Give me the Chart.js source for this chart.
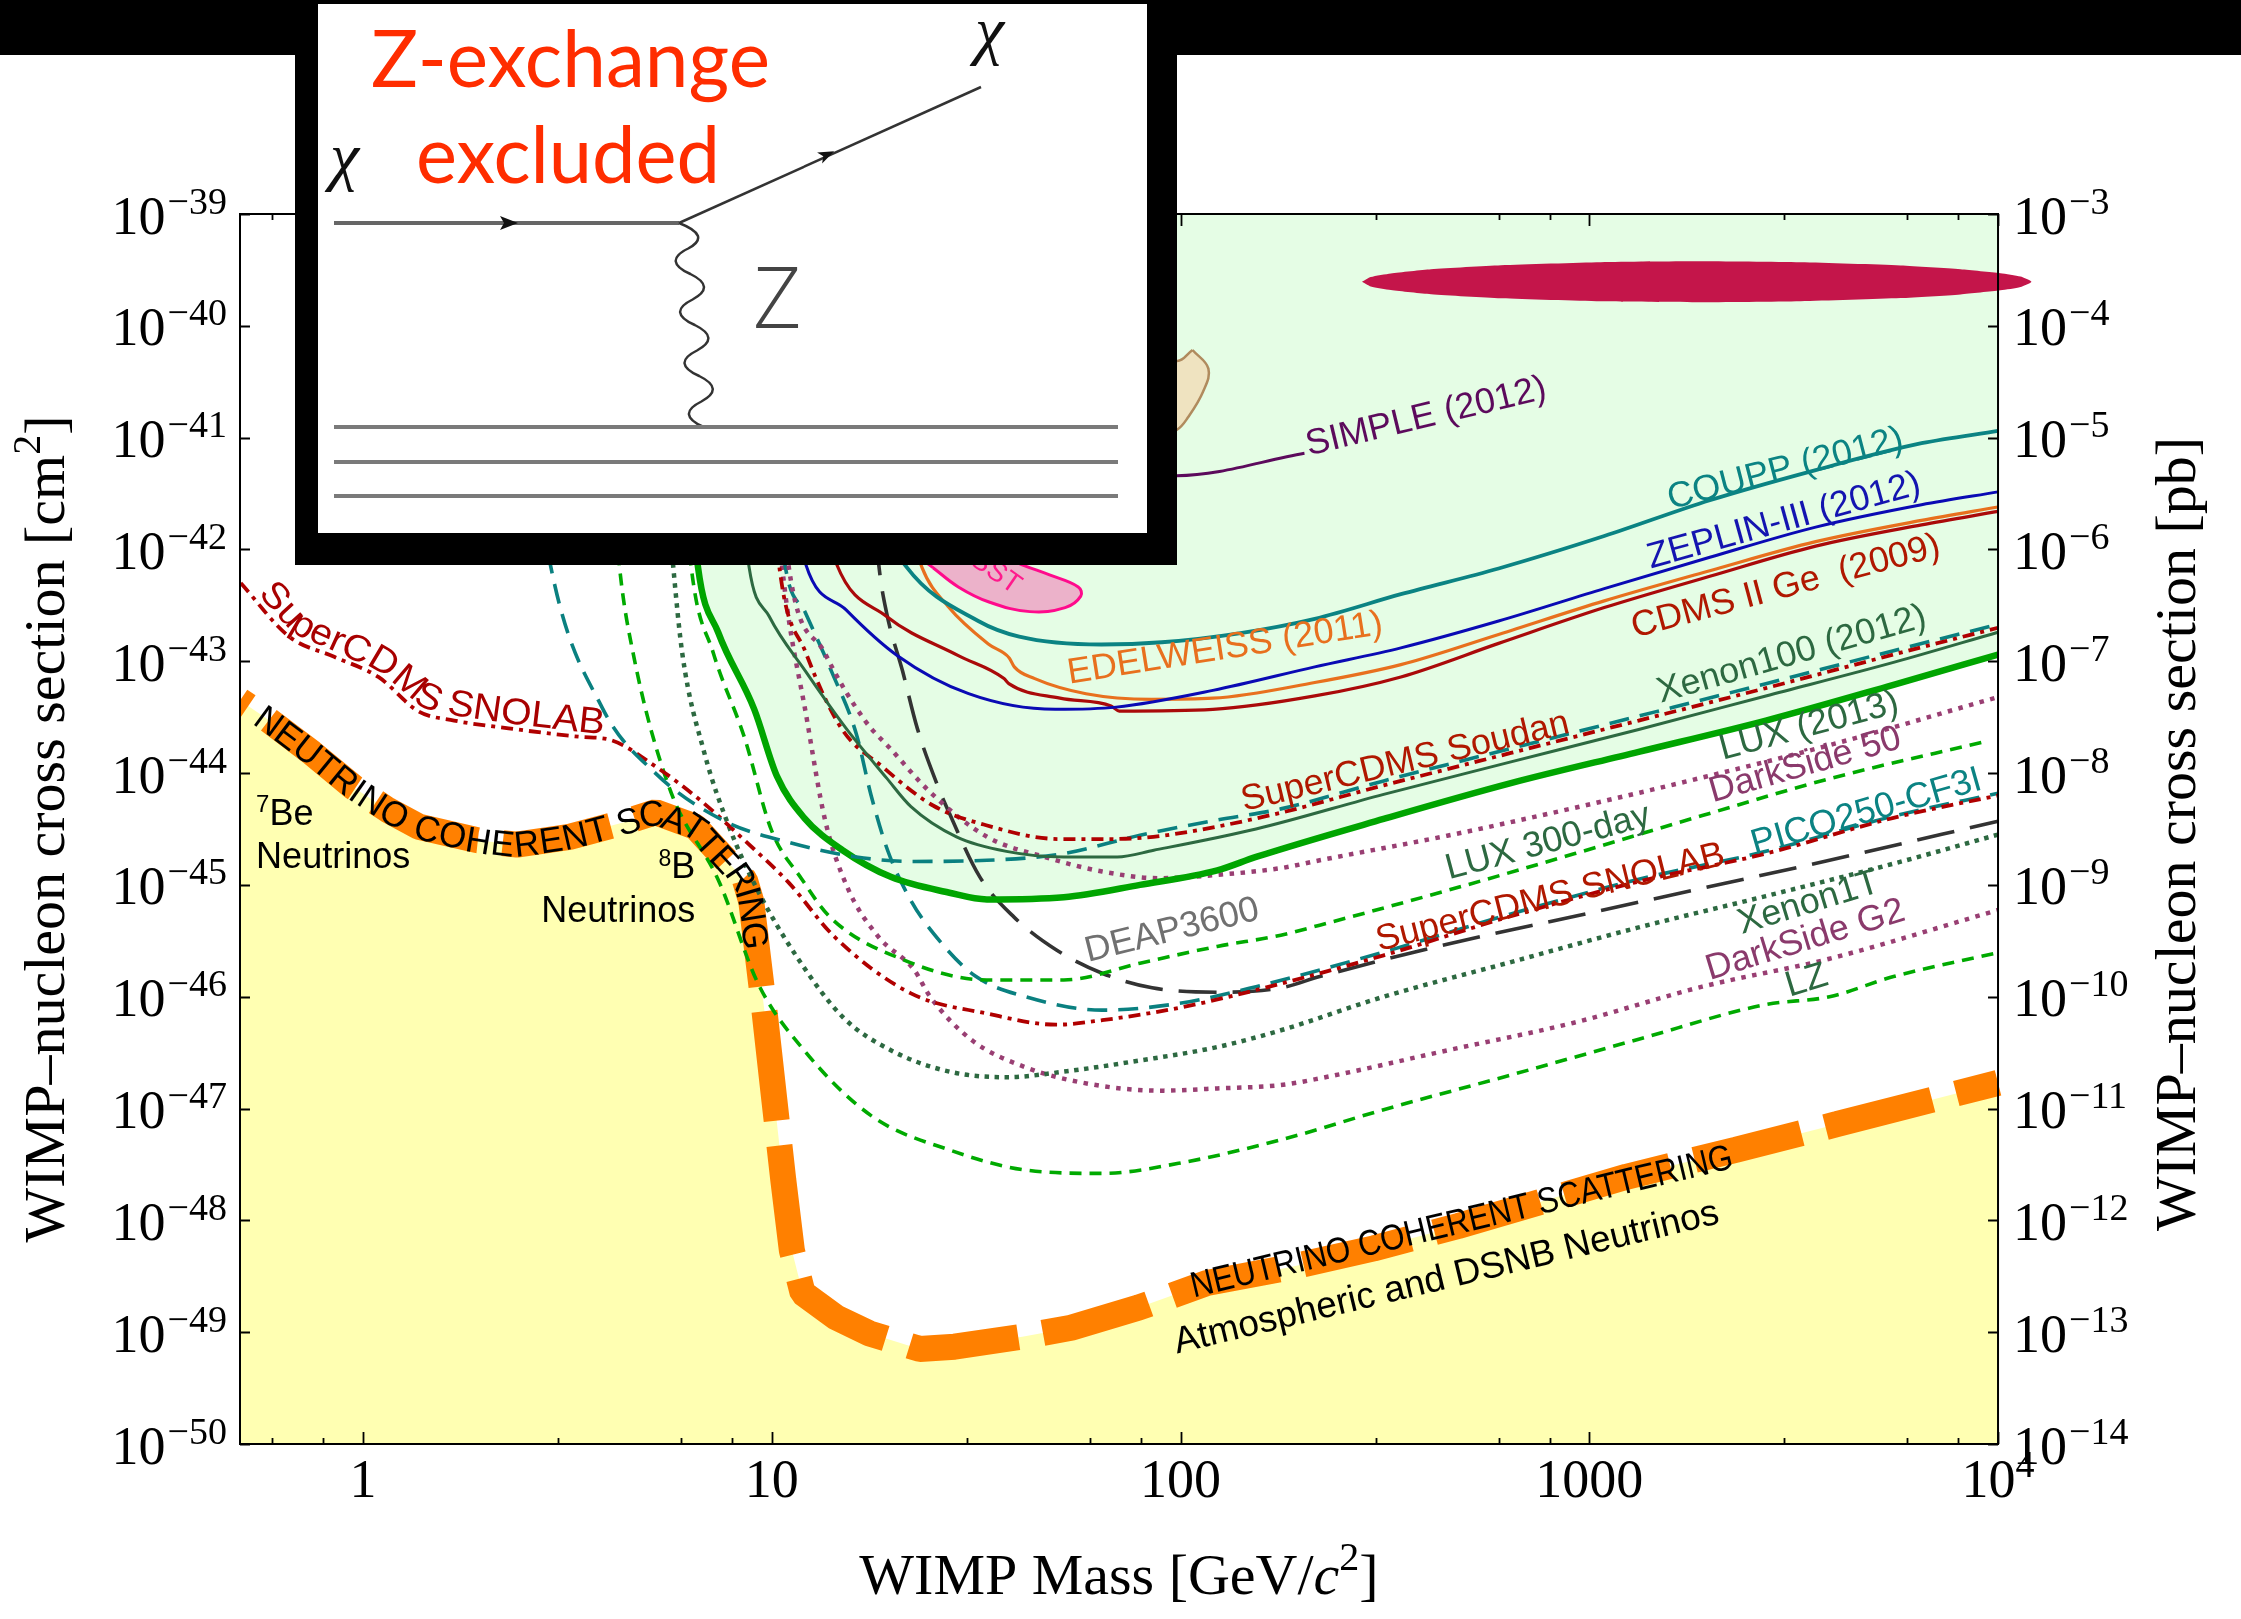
<!DOCTYPE html>
<html>
<head>
<meta charset="utf-8">
<title>WIMP-nucleon cross section limits</title>
<script src="https://cdn.jsdelivr.net/npm/chart.js@4.4.1/dist/chart.umd.min.js"></script>
<style>
html, body { margin: 0; padding: 0; background: #fff; }
#wrap { position: relative; width: 2241px; height: 1619px; overflow: hidden; background: #fff; }
#chart { position: absolute; left: 0; top: 0; }
#topbar { position: absolute; left: 0; top: 0; width: 2241px; height: 55px; background: #000; }
#inset { position: absolute; left: 295px; top: 0; width: 882px; height: 565px; box-sizing: border-box; background: #fff; border: solid #000; border-width: 4px 30px 32px 23px; }
#inset svg { position: absolute; left: 0; top: 0; }
</style>
</head>
<body>
<div id="wrap">
<canvas id="chart" width="2241" height="1619"></canvas>
<div id="topbar"></div>
<div id="inset">
<svg width="829" height="529" viewBox="318 4 829 529">
  <line x1="334" y1="223" x2="679" y2="223" stroke="#666" stroke-width="4"/>
  <polygon points="518,223 500,216 504,223 500,230" fill="#111"/>
  <line x1="679" y1="223" x2="981" y2="87" stroke="#333" stroke-width="2.5"/>
  <polygon points="834.2,151.3 822.1,163.4 823.3,156.2 817.1,152.4" fill="#111"/>
  <path id="wave" d="" fill="none" stroke="#333" stroke-width="2.5"/>
  <line x1="334" y1="427" x2="1118" y2="427" stroke="#7a7a7a" stroke-width="4"/>
  <line x1="334" y1="462" x2="1118" y2="462" stroke="#7a7a7a" stroke-width="4"/>
  <line x1="334" y1="496" x2="1118" y2="496" stroke="#7a7a7a" stroke-width="4"/>
  <text x="371" y="87" font-family="Lato, 'Liberation Sans', sans-serif" font-size="80" fill="#ff2d00" textLength="399" lengthAdjust="spacingAndGlyphs">Z-exchange</text>
  <text x="416" y="183" font-family="Lato, 'Liberation Sans', sans-serif" font-size="80" fill="#ff2d00" textLength="304" lengthAdjust="spacingAndGlyphs">excluded</text>
  <text x="330" y="178" font-family="'Liberation Serif', serif" font-style="italic" font-size="66" fill="#111">χ</text>
  <text x="975" y="52" font-family="'Liberation Serif', serif" font-style="italic" font-size="66" fill="#111">χ</text>
  <text x="753" y="328" font-family="'Open Sans', 'Liberation Sans', sans-serif" font-weight="300" font-size="84" fill="#444">Z</text>
</svg>
</div>
</div>
<script>
// WIMP mass in GeV, cross sections as log10(sigma / cm^2)
const floorMass  = [0.5, 0.575, 0.75, 0.95, 1.15, 1.37, 1.9, 2.38, 3.2, 4.35, 5.2, 6.5, 7.6, 8.6, 8.91, 9.59, 10.15, 10.67, 11.2, 11.9, 14.4, 17.3, 23, 28, 41, 54, 79, 116, 185, 297, 478, 767, 1232, 2280, 4030, 10000];
const floorSigma = [-43.35, -43.50, -43.82, -44.13, -44.33, -44.48, -44.60, -44.64, -44.57, -44.44, -44.35, -44.48, -44.75, -44.96, -45.15, -46.12, -46.93, -47.64, -48.27, -48.65, -48.87, -49.01, -49.15, -49.13, -49.04, -48.96, -48.78, -48.56, -48.42, -48.25, -48.05, -47.83, -47.61, -47.37, -47.14, -46.77];

const simpleMass  = [10, 20, 40, 70, 98, 201];
const simpleSigma = [-39.3, -40.6, -41.15, -41.32, -41.34, -41.14];

const couppMass  = [13, 16, 21.4, 32, 40.3, 64, 90, 139, 213, 346, 600, 1088, 1972, 3580, 6500, 10000];
const couppSigma = [-39.5, -41.3, -42.16, -42.64, -42.78, -42.85, -42.83, -42.75, -42.62, -42.40, -42.17, -41.88, -41.56, -41.29, -41.05, -40.94];

const zeplinMass  = [9.5, 10.5, 12.1, 15.2, 20.3, 30.3, 49.4, 69.6, 120, 213, 346, 600, 1088, 1972, 3580, 6500, 10000];
const zeplinSigma = [-39.5, -41.0, -42.13, -42.54, -42.95, -43.29, -43.43, -43.41, -43.26, -43.05, -42.88, -42.64, -42.35, -42.07, -41.80, -41.60, -41.485];

const cdmsMass  = [10.5, 12, 14.4, 19.1, 28.6, 37, 38, 50.7, 67.6, 70.8, 120, 213, 346, 600, 1088, 1972, 3580, 6500, 10000];
const cdmsSigma = [-39.5, -41.0, -42.13, -42.60, -42.95, -43.155, -43.20, -43.33, -43.40, -43.445, -43.43, -43.31, -43.14, -42.84, -42.52, -42.24, -41.97, -41.78, -41.66];

const edelMass  = [17, 20, 23.3, 27, 34, 38.1, 39.2, 44, 58.7, 85, 120, 213, 346, 600, 1088, 1972, 3580, 6500, 10000];
const edelSigma = [-39.5, -41.3, -42.16, -42.51, -42.85, -42.97, -43.05, -43.155, -43.29, -43.34, -43.33, -43.19, -43.03, -42.76, -42.46, -42.19, -41.93, -41.74, -41.62];

const xe100Mass  = [7.8, 8.2, 8.8, 9.86, 12.1, 15.2, 19.1, 21.9, 28.3, 37.5, 51.8, 70, 86, 153, 314, 643, 1321, 2704, 5550, 10000];
const xe100Sigma = [-39.0, -41.0, -42.16, -42.60, -43.09, -43.60, -44.045, -44.30, -44.57, -44.70, -44.75, -44.75, -44.69, -44.50, -44.19, -43.90, -43.61, -43.31, -43.01, -42.74];

const luxMass  = [5.9, 6.2, 6.6, 7.4, 9.06, 10.3, 12, 14.9, 19.6, 27.2, 33.6, 51.8, 79.6, 123, 153, 314, 643, 1321, 2704, 5550, 10000];
const luxSigma = [-39.0, -41.0, -42.16, -42.745, -43.43, -44.03, -44.40, -44.69, -44.93, -45.07, -45.13, -45.11, -45.00, -44.87, -44.75, -44.41, -44.09, -43.81, -43.53, -43.21, -42.94];

const soudanMass  = [9.3, 9.8, 10.5, 12.1, 14.8, 18.6, 24.8, 33, 50.7, 67.6, 90.1, 160, 314, 643, 1321, 2704, 5550, 10000];
const soudanSigma = [-39.0, -41.0, -42.23, -42.92, -43.60, -43.94, -44.29, -44.46, -44.59, -44.59, -44.56, -44.39, -44.11, -43.82, -43.53, -43.24, -42.94, -42.70];

const liteMass  = [2.45, 2.6, 2.88, 3.84, 5.19, 7.57, 11.0, 16.1, 21.9, 33.6, 51.8, 79.6, 123, 176, 314, 643, 1321, 2704, 5550, 10000];
const liteSigma = [-39.0, -41.0, -42.155, -43.41, -44.0, -44.42, -44.62, -44.75, -44.79, -44.78, -44.72, -44.555, -44.42, -44.32, -44.07, -43.78, -43.49, -43.20, -42.905, -42.67];

const picoMass  = [9.4, 10.0, 10.8, 12.1, 14, 16.1, 17.5, 19.2, 21.9, 26, 31.6, 41.8, 64.3, 98.9, 153, 314, 643, 1321, 2704, 5550, 10000];
const picoSigma = [-39.0, -41.0, -42.16, -42.57, -43.09, -43.65, -44.2, -44.69, -45.14, -45.52, -45.82, -46.0, -46.12, -46.06, -45.91, -45.60, -45.26, -44.95, -44.70, -44.385, -44.18];

const deapMass  = [16.3, 17.2, 18.3, 19.1, 20.9, 22.7, 25.5, 27.2, 32.3, 39.2, 49.6, 64.3, 85.2, 123, 176, 219, 449, 922, 1890, 3870, 10000];
const deapSigma = [-39.0, -41.0, -42.16, -42.57, -43.09, -43.60, -44.12, -44.36, -44.93, -45.29, -45.58, -45.79, -45.92, -45.96, -45.92, -45.82, -45.53, -45.28, -45.03, -44.78, -44.43];

const ds50Mass  = [9.8, 10.3, 11.0, 13.5, 16.9, 19.6, 24.4, 33.6, 46.5, 64.3, 88.7, 123, 176, 219, 449, 922, 1890, 3870, 10000];
const ds50Sigma = [-39.0, -41.0, -42.155, -42.93, -43.53, -43.79, -44.17, -44.57, -44.75, -44.88, -44.94, -44.91, -44.85, -44.78, -44.56, -44.31, -44.04, -43.75, -43.32];

const g2Mass  = [9.5, 10.0, 10.6, 12.2, 13.5, 15.3, 18.2, 22.3, 24.4, 30.9, 41.7, 57.8, 88.7, 123, 176, 219, 449, 922, 1890, 3870, 10000];
const g2Sigma = [-39.0, -41.0, -42.155, -43.53, -44.42, -45.02, -45.46, -45.76, -46.00, -46.39, -46.63, -46.77, -46.84, -46.82, -46.79, -46.73, -46.48, -46.23, -45.91, -45.66, -45.225];

const xe1tMass  = [5.1, 5.4, 5.74, 6.04, 6.84, 7.88, 9.27, 11.5, 14.9, 19.6, 27.2, 37.5, 51.8, 79.6, 123, 176, 314, 643, 1321, 2704, 5550, 10000];
const xe1tSigma = [-39.0, -41.0, -42.155, -42.93, -43.82, -44.49, -45.06, -45.64, -46.18, -46.48, -46.67, -46.72, -46.67, -46.57, -46.45, -46.30, -46.00, -45.69, -45.38, -45.10, -44.81, -44.55];

const lux300Mass  = [5.7, 6.0, 6.35, 7.2, 8.57, 9.98, 11.8, 13.9, 21, 33.6, 51.8, 79.6, 123, 176, 219, 449, 922, 1890, 3870, 9500];
const lux300Sigma = [-39.0, -41.0, -42.155, -42.93, -43.68, -44.51, -44.94, -45.29, -45.67, -45.85, -45.85, -45.70, -45.55, -45.45, -45.36, -45.05, -44.72, -44.38, -44.05, -43.71];

const lzMass  = [3.8, 4.0, 4.24, 4.58, 5.6, 7.45, 9.25, 12, 17.6, 27.2, 41.8, 64.3, 98.9, 176, 314, 643, 1321, 2704, 3870, 5550, 10000];
const lzSigma = [-39.0, -41.0, -42.155, -42.93, -44.12, -44.98, -45.88, -46.48, -47.07, -47.37, -47.55, -47.58, -47.49, -47.28, -47.01, -46.70, -46.38, -46.07, -46.00, -45.82, -45.605];

const snolabMass  = [0.502, 0.66, 0.85, 1.09, 1.37, 1.67, 2.27, 3.38, 4.04, 5.19, 6.67, 8.57, 11.0, 14.2, 21.9, 33.6, 49.6, 64.3, 98.9, 153, 314, 643, 1321, 2704, 5550, 10000];
const snolabSigma = [-42.30, -42.78, -42.96, -43.14, -43.45, -43.53, -43.60, -43.675, -43.705, -43.94, -44.24, -44.60, -44.98, -45.46, -45.97, -46.15, -46.25, -46.21, -46.10, -45.94, -45.63, -45.28, -44.97, -44.72, -44.40, -44.20];

// signal regions (closed outlines)
const cresstMass  = [24.8, 28.6, 34, 42.8, 52.2, 57, 56.2, 48, 41.6, 33, 25, 22, 24.8];
const cresstSigma = [-42.163, -42.335, -42.47, -42.556, -42.52, -42.417, -42.335, -42.23, -42.146, -42.0, -41.9, -42.0, -42.163];
const damaMass  = [107, 117, 113.5, 104, 98, 80, 60, 50, 60, 85, 98, 107];
const damaSigma = [-40.216, -40.383, -40.59, -40.825, -40.93, -41.1, -41.0, -40.6, -40.3, -40.2, -40.315, -40.216];
const blobMass  = [278, 292, 327, 410, 608, 1067, 1832, 3289, 5776, 8097, 10140, 11350, 12070, 11350, 10140, 8097, 5776, 3289, 1832, 1067, 608, 410, 327, 292, 278];
const blobSigma = [-39.606, -39.564, -39.532, -39.494, -39.458, -39.431, -39.423, -39.432, -39.46, -39.493, -39.529, -39.559, -39.606, -39.653, -39.683, -39.719, -39.752, -39.78, -39.789, -39.781, -39.754, -39.718, -39.68, -39.648, -39.606];

// axes
const xMajorTicks = [1, 10, 100, 1000, 10000];
const xMinorSteps = [2, 3, 4, 5, 6, 7, 8, 9];
const xTickLabels = ['1', '10', '100', '1000', '10^4'];
const yTickExps  = [-39, -40, -41, -42, -43, -44, -45, -46, -47, -48, -49, -50];
const y2TickExps = [-3, -4, -5, -6, -7, -8, -9, -10, -11, -12, -13, -14];

const SANS = '"Liberation Sans", Arial, Helvetica, sans-serif';
const SERIF = '"Liberation Serif", "Times New Roman", Times, serif';

const curveLabels = [
  { t: 'SIMPLE (2012)', m: 206, s: -41.16, a: -13.5, c: '#5c0a5c' },
  { t: 'COUPP (2012)', m: 1582, s: -41.64, a: -14.5, c: '#0b8383' },
  { t: 'ZEPLIN-III (2012)', m: 1413, s: -42.17, a: -15.5, c: '#1414b0' },
  { t: 'CDMS II Ge  (2009)', m: 1292, s: -42.79, a: -15, c: '#b01800' },
  { t: 'EDELWEISS (2011)', m: 53.4, s: -43.20, a: -9, c: '#e8701e' },
  { t: 'Xenon100 (2012)', m: 1496, s: -43.37, a: -16, c: '#2d6941' },
  { t: 'SuperCDMS Soudan', m: 143, s: -44.34, a: -13.5, c: '#b01800' },
  { t: 'LUX (2013)', m: 2120, s: -43.88, a: -15, c: '#2d6941' },
  { t: 'DarkSide 50', m: 2004, s: -44.26, a: -16, c: '#8a3a6c' },
  { t: 'LUX 300-day', m: 454, s: -44.95, a: -15, c: '#2d6941' },
  { t: 'SuperCDMS SNOLAB', m: 306, s: -45.59, a: -14, c: '#b01800' },
  { t: 'PICO250-CF3I', m: 2541, s: -44.73, a: -16, c: '#0b8383' },
  { t: 'DEAP3600', m: 59.4, s: -45.69, a: -14, c: '#707070' },
  { t: 'Xenon1T', m: 2360, s: -45.44, a: -17, c: '#2d6941' },
  { t: 'DarkSide G2', m: 1972, s: -45.85, a: -17, c: '#8a3a6c' },
  { t: 'LZ', m: 3090, s: -46.0, a: -17, c: '#2d6941' },
  { t: 'Atmospheric and DSNB Neutrinos', m: 98, s: -49.19, a: -13.5, c: '#000', size: 37 },
  { t: 'NEUTRINO COHERENT SCATTERING', m: 107.7, s: -48.69, a: -13.5, c: '#000', sx: 0.87 },
  { t: 'CRESST', m: 23.1, s: -41.82, a: 35, c: '#ff1a8c', size: 28 }
];

// wavy Z propagator in the inset
(function () {
  let d = 'M679,223';
  for (let k = 0; k < 8; k++) {
    const y0 = 223 + 25.5 * k;
    const xc = 686 + 2.2 * k + (k % 2 ? -26 : 26);
    d += ' Q' + xc.toFixed(1) + ',' + (y0 + 12.75).toFixed(1) + ' ' + (686 + 2.2 * (k + 1)).toFixed(1) + ',' + (y0 + 25.5).toFixed(1);
  }
  document.getElementById('wave').setAttribute('d', d);
})();

const pts = (ms, ss) => ms.map((m, i) => ({ x: m, y: Math.pow(10, ss[i]) }));

function curve(label, ms, ss, color, width, dash, extra) {
  return Object.assign({
    label: label, data: pts(ms, ss), showLine: true, pointRadius: 0, pointHoverRadius: 0,
    borderColor: color, borderWidth: width, borderDash: dash || [], borderCapStyle: 'butt',
    fill: false, cubicInterpolationMode: 'monotone'
  }, extra || {});
}

function region(label, ms, ss, fillColor, lineColor, width, tension) {
  return {
    label: label, data: pts(ms, ss), showLine: true, pointRadius: 0, tension: tension,
    borderColor: lineColor, borderWidth: width, backgroundColor: fillColor, fill: 'shape', clip: false
  };
}

const datasets = [
  region('blob', blobMass, blobSigma, '#c4154a', '#c4154a', 0, 0.2),
  region('CRESST', cresstMass, cresstSigma, '#ecb2ca', '#ff0a8c', 3, 0.4),
  region('DAMA', damaMass, damaSigma, '#efe3c0', '#b08b5e', 2.5, 0.4),
  curve('SIMPLE', simpleMass, simpleSigma, '#5c0a5c', 3),
  curve('COUPP', couppMass, couppSigma, '#0b8383', 3.8),
  curve('ZEPLIN', zeplinMass, zeplinSigma, '#0a0ab4', 3),
  curve('EDELWEISS', edelMass, edelSigma, '#e8701e', 3.2),
  curve('CDMS', cdmsMass, cdmsSigma, '#aa0a0a', 3.2),
  curve('Xenon100', xe100Mass, xe100Sigma, '#2d6941', 3),
  curve('Soudan', soudanMass, soudanSigma, '#b00000', 3.8, [12, 6, 4, 6]),
  curve('lite', liteMass, liteSigma, '#0a8080', 3.6, [20, 11]),
  curve('LUX', luxMass, luxSigma, '#00a500', 6.5, [], { fill: 'end', backgroundColor: 'rgb(229,253,229)' }),
  curve('DS50', ds50Mass, ds50Sigma, '#993f73', 4.5, [4.5, 6.5]),
  curve('LUX300', lux300Mass, lux300Sigma, '#00aa00', 3.6, [12, 8]),
  curve('snolab', snolabMass, snolabSigma, '#b00000', 3.8, [12, 6, 4, 6]),
  curve('PICO', picoMass, picoSigma, '#0a8080', 3.6, [20, 11]),
  curve('DEAP', deapMass, deapSigma, '#333333', 3.6, [38, 16]),
  curve('Xe1T', xe1tMass, xe1tSigma, '#2d6941', 4.5, [4.5, 5.5]),
  curve('G2', g2Mass, g2Sigma, '#993f73', 4.5, [4.5, 6.5]),
  curve('LZ', lzMass, lzSigma, '#00aa00', 3.6, [12, 8]),
  {
    label: 'floor', data: pts(floorMass, floorSigma), showLine: true, pointRadius: 0, tension: 0,
    borderColor: '#ff8000', borderWidth: 26, borderDash: [110, 25], borderDashOffset: 100,
    borderCapStyle: 'butt', borderJoinStyle: 'bevel',
    fill: 'start', backgroundColor: 'rgb(255,255,178)'
  }
];

function drawParts(ctx, parts, x, y, align, family) {
  const fontOf = p => (p[3] ? 'italic ' : '') + p[1] + 'px ' + family;
  const ws = parts.map(p => { ctx.font = fontOf(p); return ctx.measureText(p[0]).width; });
  const w = ws.reduce((a, b) => a + b, 0);
  let cx = align === 'right' ? x - w : align === 'center' ? x - w / 2 : x;
  ctx.textAlign = 'left';
  ctx.textBaseline = 'alphabetic';
  parts.forEach((p, i) => { ctx.font = fontOf(p); ctx.fillText(p[0], cx, y + (p[2] || 0)); cx += ws[i]; });
}

function metaPoints(chart, label) {
  const i = chart.data.datasets.findIndex(d => d.label === label);
  return chart.getDatasetMeta(i).data.map(p => ({ x: p.x, y: p.y }));
}

function textOnPath(ctx, path, text, xStart, xEnd, font, color, off) {
  const cum = [0];
  for (let i = 1; i < path.length; i++) cum.push(cum[i - 1] + Math.hypot(path[i].x - path[i - 1].x, path[i].y - path[i - 1].y));
  const total = cum[cum.length - 1];
  const sAtX = px => {
    for (let i = 1; i < path.length; i++) {
      if (path[i].x >= px) {
        const t = (px - path[i - 1].x) / ((path[i].x - path[i - 1].x) || 1);
        return cum[i - 1] + t * (cum[i] - cum[i - 1]);
      }
    }
    return total;
  };
  const at = s => {
    s = Math.max(0, Math.min(total, s));
    let i = 1;
    while (i < path.length - 1 && cum[i] < s) i++;
    const t = (s - cum[i - 1]) / ((cum[i] - cum[i - 1]) || 1);
    return { x: path[i - 1].x + t * (path[i].x - path[i - 1].x), y: path[i - 1].y + t * (path[i].y - path[i - 1].y) };
  };
  ctx.save();
  ctx.font = font;
  ctx.fillStyle = color;
  ctx.textAlign = 'center';
  ctx.textBaseline = 'alphabetic';
  const chars = Array.from(text);
  const widths = chars.map(ch => ctx.measureText(ch).width);
  const natural = widths.reduce((a, b) => a + b, 0);
  const s0 = sAtX(xStart), s1 = sAtX(xEnd);
  const k = (s1 - s0) / natural;
  let acc = 0;
  chars.forEach((ch, i) => {
    const s = s0 + k * (acc + widths[i] / 2);
    acc += widths[i];
    const p = at(s), pa = at(s - 14), pb = at(s + 14);
    ctx.save();
    ctx.translate(p.x, p.y);
    ctx.rotate(Math.atan2(pb.y - pa.y, pb.x - pa.x));
    ctx.scale(k, 1);
    ctx.fillText(ch, 0, off);
    ctx.restore();
  });
  ctx.restore();
}

const labelPlugin = {
  id: 'curveLabels',
  afterDatasetsDraw(chart) {
    const ctx = chart.ctx;
    const xs = chart.scales.x, ys = chart.scales.y;
    curveLabels.forEach(lb => {
      ctx.save();
      ctx.translate(xs.getPixelForValue(lb.m), ys.getPixelForValue(Math.pow(10, lb.s)));
      ctx.rotate(lb.a * Math.PI / 180);
      if (lb.sx) ctx.scale(lb.sx, 1);
      ctx.font = (lb.size || 36) + 'px ' + SANS;
      ctx.fillStyle = lb.c;
      ctx.textAlign = 'left';
      ctx.textBaseline = 'alphabetic';
      ctx.fillText(lb.t, 0, 0);
      ctx.restore();
    });
    ctx.save();
    ctx.fillStyle = '#000';
    const be = xs.getPixelForValue(0.5475);
    drawParts(ctx, [['7', 24, -13], ['Be', 36, 0]], be, ys.getPixelForValue(Math.pow(10, -44.465)), 'left', SANS);
    drawParts(ctx, [['Neutrinos', 36, 0]], be, ys.getPixelForValue(Math.pow(10, -44.85)), 'left', SANS);
    const b8 = xs.getPixelForValue(6.5);
    drawParts(ctx, [['8', 23, -12], ['B', 36, 0]], b8, ys.getPixelForValue(Math.pow(10, -44.94)), 'right', SANS);
    drawParts(ctx, [['Neutrinos', 36, 0]], b8, ys.getPixelForValue(Math.pow(10, -45.33)), 'right', SANS);
    ctx.restore();
    textOnPath(ctx, metaPoints(chart, 'floor'), 'NEUTRINO COHERENT SCATTERING', 259, 757, '36px ' + SANS, '#000', 12.5);
    textOnPath(ctx, metaPoints(chart, 'snolab'), 'SuperCDMS SNOLAB', 254, 603, '37px ' + SANS, '#a80000', -5);
  }
};

const framePlugin = {
  id: 'frameTicks',
  afterDraw(chart) {
    const ctx = chart.ctx;
    const { left, top, bottom } = chart.chartArea;
    const xs = chart.scales.x, ys = chart.scales.y, y2 = chart.scales.y2;
    const right = xs.getPixelForValue(10000);
    ctx.save();
    ctx.strokeStyle = '#000';
    ctx.lineWidth = 2;
    ctx.strokeRect(left, top, right - left, bottom - top);
    ctx.lineWidth = 1.8;
    ctx.beginPath();
    xs.ticks.forEach(t => {
      const p = Math.round(xs.getPixelForValue(t.value)) + 0.5;
      const len = t.major ? 12 : 6;
      ctx.moveTo(p, bottom); ctx.lineTo(p, bottom - len);
      ctx.moveTo(p, top); ctx.lineTo(p, top + len);
    });
    ys.ticks.forEach(t => {
      const p = Math.round(ys.getPixelForValue(t.value)) + 0.5;
      ctx.moveTo(left, p); ctx.lineTo(left + 10, p);
    });
    y2.ticks.forEach(t => {
      const p = Math.round(y2.getPixelForValue(t.value)) + 0.5;
      ctx.moveTo(right, p); ctx.lineTo(right - 10, p);
    });
    ctx.stroke();

    ctx.fillStyle = '#000';
    ys.ticks.forEach((t, i) => {
      const p = ys.getPixelForValue(t.value);
      drawParts(ctx, [['10', 54, 0], [' ', 8, 0], ['\u2212' + Math.abs(yTickExps[i]), 38, -20]], 227, p + 19.5, 'right', SERIF);
    });
    y2.ticks.forEach((t, i) => {
      const p = y2.getPixelForValue(t.value);
      drawParts(ctx, [['10', 54, 0], [' ', 8, 0], ['\u2212' + Math.abs(y2TickExps[i]), 38, -20]], right + 15, p + 19.5, 'left', SERIF);
    });
    xMajorTicks.forEach((v, i) => {
      const p = xs.getPixelForValue(v);
      const parts = xTickLabels[i].split('^');
      const rich = [[parts[0], 54, 0]];
      if (parts[1]) rich.push([parts[1], 38, -20]);
      drawParts(ctx, rich, p, 1497, 'center', SERIF);
    });

    ctx.save();
    ctx.translate(64, 829);
    ctx.rotate(-Math.PI / 2);
    drawParts(ctx, [['WIMP\u2013nucleon cross section [cm', 58, 0], ['2', 40, -24], [']', 58, 0]], 0, 0, 'center', SERIF);
    ctx.restore();
    ctx.save();
    ctx.translate(2195, 834);
    ctx.rotate(-Math.PI / 2);
    drawParts(ctx, [['WIMP\u2013nucleon cross section [pb]', 58, 0]], 0, 0, 'center', SERIF);
    ctx.restore();
    drawParts(ctx, [['WIMP Mass [GeV/', 58, 0], ['c', 58, 0, true], ['2', 40, -24], [']', 58, 0]], 1119, 1594, 'center', SERIF);
    ctx.restore();
  }
};

// the x range runs a little past 10^4 so the signal ellipse can poke over the frame
new Chart(document.getElementById('chart').getContext('2d'), {
  type: 'scatter',
  data: { datasets: datasets },
  options: {
    responsive: false,
    animation: false,
    devicePixelRatio: 1,
    events: [],
    layout: { padding: { left: 240, top: 214, right: 202.1, bottom: 175 } },
    plugins: {
      legend: { display: false },
      tooltip: { enabled: false },
      filler: { propagate: false, drawTime: 'beforeDatasetsDraw' }
    },
    scales: {
      x: {
        type: 'logarithmic', min: 0.5, max: Math.pow(10, 4.1), display: false,
        afterBuildTicks: s => {
          const t = [];
          [0.1, 1, 10, 100, 1000].forEach(d => xMinorSteps.forEach(k => {
            const v = k * d;
            if (v > 0.5 && v < 10000) t.push({ value: v, major: false });
          }));
          xMajorTicks.forEach(v => t.push({ value: v, major: true }));
          s.ticks = t.sort((a, b) => a.value - b.value);
        }
      },
      y: {
        type: 'logarithmic', min: 1e-50, max: 1e-39, display: false,
        afterBuildTicks: s => { s.ticks = yTickExps.map(e => ({ value: Math.pow(10, e), major: true })); }
      },
      y2: {
        type: 'logarithmic', position: 'right', min: 1e-14, max: 1e-3, display: false,
        afterBuildTicks: s => { s.ticks = y2TickExps.map(e => ({ value: Math.pow(10, e), major: true })); }
      }
    }
  },
  plugins: [labelPlugin, framePlugin]
});
</script>
</body>
</html>
